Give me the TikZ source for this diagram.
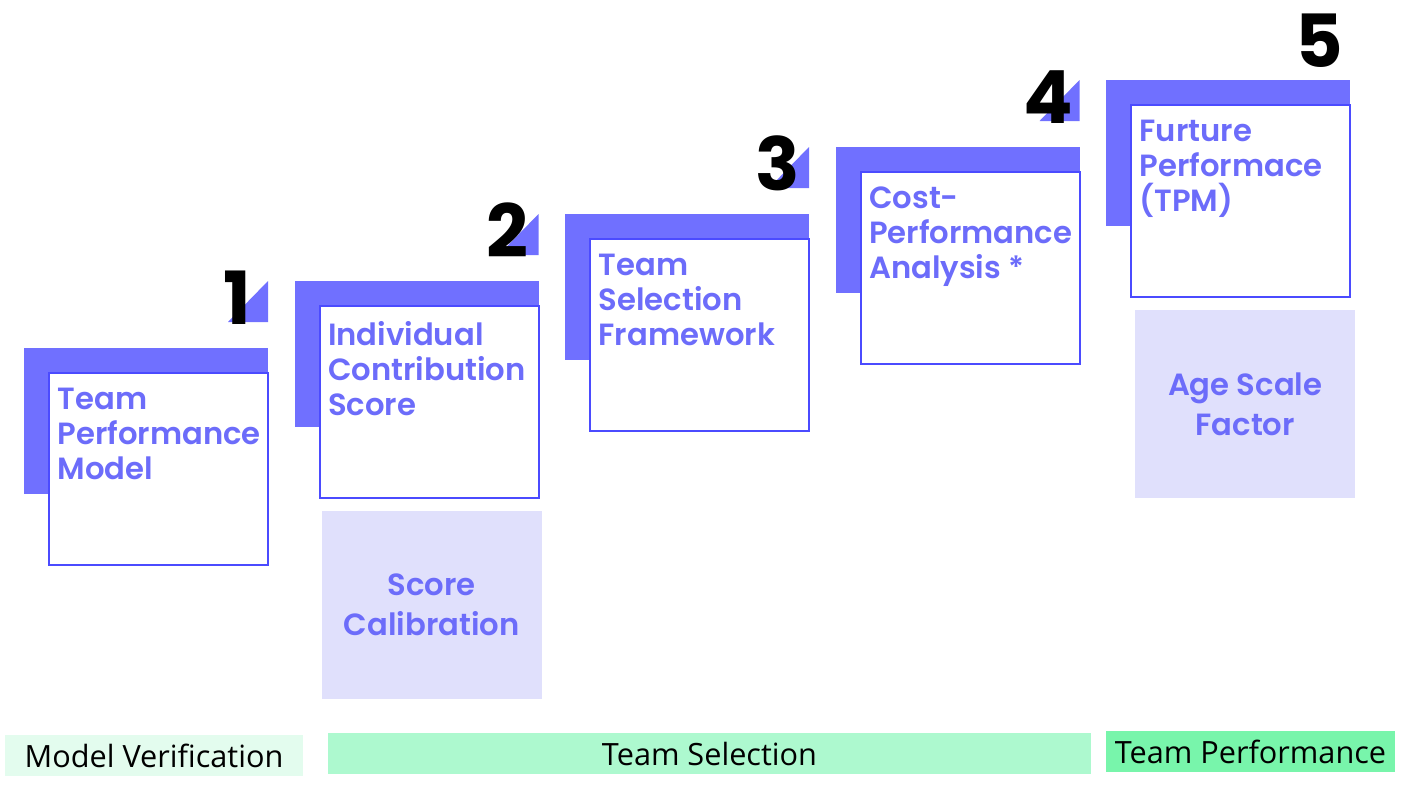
\documentclass[tikz,border=0pt]{standalone}
\usepackage{fontspec}
\setmainfont{Poppins}
\newfontfamily\lblfont[UprightFont={* SemiBold}]{Poppins}
\newfontfamily\barfont{Open Sans}
\usetikzlibrary{positioning}
\definecolor{stepblue}{HTML}{7070FF}
\definecolor{boxblue}{HTML}{4B4BFF}
\definecolor{txtblue}{HTML}{6C6CFA}
\definecolor{lightblue}{HTML}{E0E0FC}
\definecolor{greenA}{HTML}{E3FCEE}
\definecolor{greenB}{HTML}{ADF9CF}
\definecolor{greenC}{HTML}{78F5AB}

\begin{document}
\begin{tikzpicture}[x=0.75pt, y=-0.75pt, inner sep=0pt, outer sep=0pt]
\tikzstyle{back}=[fill=stepblue, minimum width=183pt, minimum height=109.5pt, anchor=north west]
\tikzstyle{front}=[fill=white, draw=boxblue, line width=1.5pt, minimum width=164.25pt, minimum height=144pt, anchor=north west]
\tikzstyle{lbl}=[anchor=north west, align=left, text=txtblue, font=\lblfont\fontsize{23}{26.25}\selectfont]
\tikzstyle{num}=[anchor=base, font=\bfseries\fontsize{55}{55}\selectfont]
\tikzstyle{light}=[fill=lightblue, minimum width=165pt, minimum height=141pt, align=center, text=txtblue, font=\lblfont\fontsize{23}{30}\selectfont]
\tikzstyle{bar}=[minimum height=30.75pt, font=\barfont\fontsize{23}{23}\selectfont]
\useasboundingbox (0,0) rectangle (1401,786);

% five steps
\foreach \i/\txt/\nb in {0/{Team\\Performance\\Model}/24,
                         1/{Individual\\Contribution\\Score}/24,
                         2/{Team\\Selection\\Framework}/24,
                         3/{Cost-\\Performance\\Analysis *}/24,
                         4/{Furture\\Performace\\(TPM)}/13}{
  \pgfmathtruncatemacro\n{\i+1}
  \node[back] (back\i) at ({24+270.5*\i}, {348-67*\i}) {};
  \node[front] (box\i) at ([xshift=18.75pt, yshift=-18.75pt]back\i.north west) {};
  \node[lbl] (lbl\i) at ([xshift=6.5pt, yshift=-11.25pt]box\i.north west) {\txt};
  \ifnum\i<4
    \fill[stepblue] ([shift={(-30pt,19.5pt)}]back\i.north east) -- ++(30pt,0) -- ++(0,30.75pt) -- cycle;
  \fi
  \node[num] (num\i) at ([xshift=-23.25pt, yshift=\nb*0.75pt]back\i.north east) {\n};
}

\node[light, below=9.75pt of box1, xshift=2pt] (calib) {Score\\Calibration};
\node[light, below=9.75pt of box4, xshift=3.5pt] (age) {Age Scale\\Factor};

% phases
\node[bar, fill=greenA, minimum width=223.5pt] (verif) at (154,755.5) {Model Verification};
\node[bar, fill=greenB, minimum width=572.25pt] (select) at (709.5,753.5) {Team Selection};
\node[bar, fill=greenC, minimum width=216.75pt] (perf) at (1250.5,751.5) {Team Performance};
\end{tikzpicture}
\end{document}
